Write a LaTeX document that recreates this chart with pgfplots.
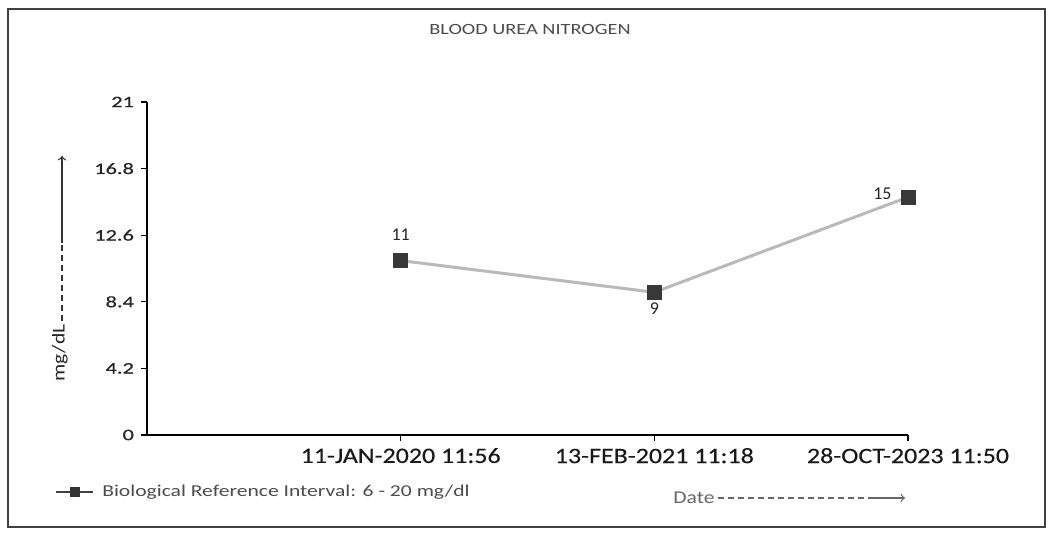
\documentclass[border=0pt]{standalone}
\usepackage{fontspec}
\usepackage{pgfplots}
\pgfplotsset{compat=1.18}
\setmainfont{Carlito}
\newfontfamily\ytfont[FakeStretch=1.4,FakeBold=0.6]{Carlito}
\newfontfamily\xtfont[FakeStretch=1.18,FakeBold=0.3]{Carlito}
\newfontfamily\ttlfont[FakeStretch=1.3]{Carlito}
\newfontfamily\lgfont[FakeStretch=1.3]{Carlito}
\newfontfamily\lblfont[FakeStretch=1.2]{Carlito}
\pgfplotstableread{
x y
1 11
2 9
3 15
}\bundata
\begin{document}
\begin{tikzpicture}[x=0.5pt,y=0.5pt]
\useasboundingbox (0,0) rectangle (1052,533);
% outer frame
\draw[line width=1.1pt, black!75] (8,6) rectangle (1045,524);
% title
\node[text=black!70, font={\ttlfont\fontsize{7.8}{9}\selectfont}] at (530,503) {BLOOD UREA NITROGEN};
\begin{axis}[
  at={(73.5pt,49pt)}, anchor=south west,
  scale only axis, width=380.5pt, height=166.5pt,
  xmin=0, xmax=3, ymin=0, ymax=21,
  axis lines*=left,
  axis line style={black, line width=0.6pt},
  tick align=outside, major tick length=3pt,
  tick style={black, line width=0.6pt},
  xtick={1,2,3},
  xticklabels={11-JAN-2020 11:56,13-FEB-2021 11:18,28-OCT-2023 11:50},
  ytick={0,4.2,8.4,12.6,16.8,21},
  yticklabels={0,4.2,8.4,12.6,16.8,21},
  xticklabel style={font={\xtfont\fontsize{11}{13}\selectfont}, text=black!90},
  yticklabel style={font={\ytfont\fontsize{8}{10}\selectfont}, text=black!85},
  clip=false,
  legend style={at={(-0.121,-0.171)}, anchor=west, draw=none, fill=none, inner sep=0pt,
    font={\lgfont\fontsize{8.3}{10}\selectfont}, text=black!70,
    legend cell align=left, nodes={inner xsep=4pt}},
  legend image code/.code={
    \draw[black!75, line width=1pt] (0cm,0cm) -- (0.65cm,0cm);
    \fill[black!80] (0.27cm,-1.7pt) rectangle (0.385cm,1.7pt);
  },
  lbl/.style={draw=none, mark=none, forget plot, nodes near coords,
    point meta=explicit symbolic,
    every node near coord/.append style={text=black!85, font={\fontsize{9}{11}\selectfont}}},
]
\addplot[gray!55, line width=1.5pt, mark=square*, mark size=3pt,
  mark options={fill=black!78, draw=black!78, solid}] table [x=x, y=y] {\bundata};
\addlegendentry{Biological Reference Interval: 6 - 20 mg/dl}
\addplot[lbl, every node near coord/.append style={anchor=south, inner sep=10pt}] coordinates {(1,11) [11]};
\addplot[lbl, every node near coord/.append style={anchor=north, inner sep=5pt}] coordinates {(2,9) [9]};
\addplot[lbl, every node near coord/.append style={anchor=east, inner sep=8pt, yshift=1.5pt}] coordinates {(3,15) [15]};
\end{axis}
% y axis label with arrow
\node[rotate=90, text=black!85, font={\lblfont\fontsize{9}{11}\selectfont}] at (60,180) {mg/dL};
\draw[black!80, densely dashed, line width=0.6pt] (62,212) -- (62,290);
\draw[black!80, line width=0.6pt, ->] (62,290) -- (62,377);
% x axis label with arrow
\node[text=black!60, font={\lblfont\fontsize{9}{11}\selectfont}] at (694,35) {Date};
\draw[black!60, densely dashed, line width=0.6pt] (718,35) -- (868,35);
\draw[black!60, line width=0.6pt, ->] (868,35) -- (905,35);
\end{tikzpicture}
\end{document}
